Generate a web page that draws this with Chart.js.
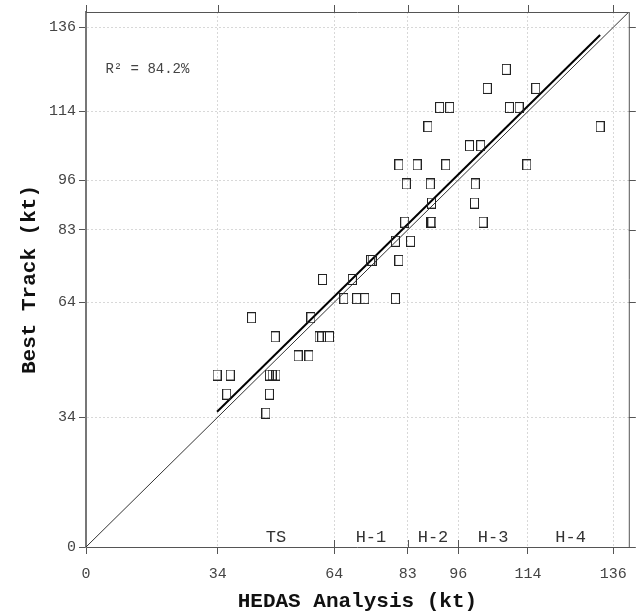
<!DOCTYPE html>
<html><head><meta charset="utf-8">
<script src="https://cdn.jsdelivr.net/npm/chart.js@4.4.0/dist/chart.umd.min.js"></script>
<style>html,body{margin:0;padding:0;background:#fff;}</style>
</head><body>
<canvas id="c" width="638" height="615"></canvas>
<script>
// ---- data ----
const tickValues = [0, 34, 64, 83, 96, 114, 136];
const hedas = [46.4, 36.3, 47.3, 33.8, 37.2, 47.3, 48.0, 49.0, 54.7, 57.5,
  48.8, 60.1, 60.8, 62.8, 42.7, 58.0, 66.5, 69.8, 71.9, 79.8,
  61.0, 68.7, 73.4, 73.8, 80.7, 79.8, 83.7, 82.2, 88.9, 89.2, 102.4,
  89.1, 100.2, 82.6, 88.8, 100.4, 80.7, 85.4, 92.8, 113.7,
  98.9, 101.8, 88.2, 132.6, 91.2, 93.8, 109.2, 111.7, 103.5, 116.0, 108.4];
const bestTrack = [35, 40, 40, 45, 45, 45, 45, 45, 50, 50,
  55, 55, 55, 55, 60, 60, 65, 65, 65, 65,
  70, 70, 75, 75, 75, 80, 80, 85, 85, 85, 85,
  90, 90, 95, 95, 95, 100, 100, 100, 100,
  105, 105, 110, 110, 115, 115, 115, 115, 120, 120, 125];
const categoryLabels = ['TS', 'H-1', 'H-2', 'H-3', 'H-4'];
const categoryCenters = [49, 73.5, 89.5, 105, 125];
const categoryBounds = [64, 83, 96];
const regressionX = [33.8, 132.6];
const regressionY = [35.4, 134.0];
const identityX = [0, 140];
const identityY = [0, 140];
const rSquaredText = 'R\u00B2 = 84.2%';
const rSquaredPos = [5, 125];
const axisMax = 140;

const points = hedas.map((x, i) => ({x: x, y: bestTrack[i]}));
const regLine = regressionX.map((x, i) => ({x: x, y: regressionY[i]}));
const idLine = identityX.map((x, i) => ({x: x, y: identityY[i]}));

function makeSquare() {
  const c = document.createElement('canvas');
  c.width = 9; c.height = 11;
  const g = c.getContext('2d');
  g.strokeStyle = '#222'; g.lineWidth = 1;
  g.strokeRect(0.5, 0.5, 8, 10);
  return c;
}
const sq = makeSquare();

const MONO = '"Liberation Mono", "DejaVu Sans Mono", monospace';

const decor = {
  id: 'decor',
  afterDatasetsDraw(chart) {
    const {ctx, chartArea: a, scales: {x, y}} = chart;
    ctx.save();
    ctx.strokeStyle = '#555'; ctx.lineWidth = 1;
    ctx.beginPath();
    ctx.moveTo(a.left, a.top + 0.5); ctx.lineTo(a.right, a.top + 0.5);
    ctx.moveTo(a.right + 0.5, a.top); ctx.lineTo(a.right + 0.5, a.bottom);
    ctx.stroke();
    ctx.beginPath();
    tickValues.forEach(v => {
      const px = Math.round(x.getPixelForValue(v)) + 0.5;
      ctx.moveTo(px, a.top); ctx.lineTo(px, a.top - 7);
      const py = Math.round(y.getPixelForValue(v)) + 0.5;
      ctx.moveTo(a.right, py); ctx.lineTo(a.right + 7, py);
    });
    categoryBounds.forEach(v => {
      const px = Math.round(x.getPixelForValue(v)) + 0.5;
      ctx.moveTo(px, a.bottom); ctx.lineTo(px, a.bottom - 7);
    });
    ctx.stroke();
    ctx.fillStyle = '#333';
    ctx.font = '17px ' + MONO;
    ctx.textAlign = 'center'; ctx.textBaseline = 'middle';
    categoryLabels.forEach((t, i) => {
      ctx.fillText(t, x.getPixelForValue(categoryCenters[i]), a.bottom - 10);
    });
    ctx.textAlign = 'left';
    ctx.font = '14px ' + MONO;
    ctx.fillStyle = '#444';
    ctx.fillText(rSquaredText, x.getPixelForValue(rSquaredPos[0]), y.getPixelForValue(rSquaredPos[1]));
    ctx.restore();
  }
};

function setTicks(scale) { scale.ticks = tickValues.map(v => ({value: v})); }

new Chart(document.getElementById('c'), {
  type: 'scatter',
  data: {
    datasets: [
      {data: idLine, type: 'line', showLine: true, borderColor: '#333', borderWidth: 1, pointRadius: 0, fill: false, order: 3},
      {data: regLine, type: 'line', showLine: true, borderColor: '#000', borderWidth: 2, pointRadius: 0, fill: false, order: 2},
      {data: points, pointStyle: sq, pointRadius: 5, backgroundColor: 'rgba(0,0,0,0)', borderColor: '#222', order: 1}
    ]
  },
  options: {
    responsive: false,
    devicePixelRatio: 1,
    animation: false,
    layout: {padding: {top: 9, right: 7, left: 0, bottom: 0}},
    plugins: {legend: {display: false}, tooltip: {enabled: false}},
    scales: {
      x: {
        type: 'linear', min: 0, max: axisMax,
        afterBuildTicks: setTicks,
        afterFit: s => { s.height = 68; },
        grid: {color: '#d8d8d8', tickColor: '#555', tickLength: 7, drawTicks: true},
        border: {display: true, color: '#555', width: 1, dash: [2, 2]},
        ticks: {font: {family: MONO, size: 15}, color: '#444', padding: 11, maxRotation: 0, autoSkip: false},
        title: {display: true, text: 'HEDAS Analysis (kt)', color: '#111', font: {family: MONO, size: 21, weight: 'bold'}, padding: {top: 0, bottom: 1}}
      },
      y: {
        type: 'linear', min: 0, max: axisMax,
        afterBuildTicks: setTicks,
        afterFit: s => { s.width = 86; },
        grid: {color: '#d8d8d8', tickColor: '#555', tickLength: 7, drawTicks: true},
        border: {display: true, color: '#777', width: 2, dash: [2, 2]},
        ticks: {font: {family: MONO, size: 15}, color: '#444', padding: 3, autoSkip: false},
        title: {display: true, text: 'Best Track (kt)', color: '#111', font: {family: MONO, size: 21, weight: 'bold'}, padding: {top: 17, bottom: 0}}
      }
    }
  },
  plugins: [decor]
});
</script>
</body></html>
